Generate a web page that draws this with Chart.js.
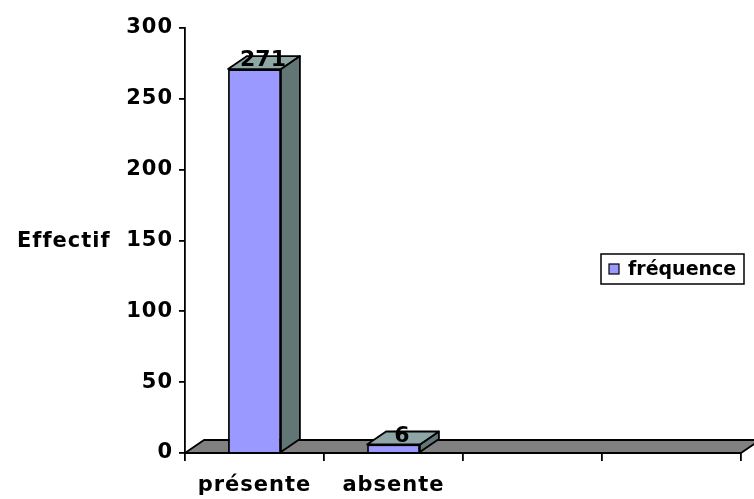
<!DOCTYPE html>
<html>
<head>
<meta charset="utf-8">
<script src="https://cdn.jsdelivr.net/npm/chart.js@4"></script>
<style>
  html, body { margin: 0; padding: 0; background: #fff; }
  #wrap { width: 754px; height: 499px; }
</style>
</head>
<body>
<div id="wrap"><canvas id="chart" width="754" height="499"></canvas></div>
<script>
const categories = ['présente', 'absente', '', ''];
const frequence = [271, 6, null, null];
const yTicks = [0, 50, 100, 150, 200, 250, 300];
const seriesLabel = 'fréquence';
const yTitle = 'Effectif';

// fake 3D depth of the bars and floor
const DX = 19;
const DY = -13;
const FONT = '"DejaVu Sans", Arial, sans-serif';

function poly(ctx, pts, fill) {
    ctx.beginPath();
    ctx.moveTo(pts[0][0], pts[0][1]);
    for (let i = 1; i < pts.length; i++) ctx.lineTo(pts[i][0], pts[i][1]);
    ctx.closePath();
    ctx.fillStyle = fill;
    ctx.fill();
    ctx.lineWidth = 1.8;
    ctx.lineJoin = 'round';
    ctx.strokeStyle = '#000';
    ctx.stroke();
}

const spacing = {
    id: 'spacing',
    beforeDraw(chart) {
        chart.ctx.letterSpacing = '1px';
    }
};

const box3d = {
    id: 'box3d',
    beforeDatasetsDraw(chart) {
        const ctx = chart.ctx;
        const a = chart.chartArea;
        ctx.save();
        poly(ctx, [[a.left, a.bottom], [a.right, a.bottom], [a.right + DX, a.bottom + DY], [a.left + DX, a.bottom + DY]], '#808080');
        ctx.restore();
    },
    afterDatasetsDraw(chart) {
        const ctx = chart.ctx;
        const meta = chart.getDatasetMeta(0);
        ctx.save();
        meta.data.forEach((bar, i) => {
            if (frequence[i] == null) return;
            const l = bar.x - bar.width / 2;
            const r = bar.x + bar.width / 2;
            poly(ctx, [[r, bar.y], [r + DX, bar.y + DY], [r + DX, bar.base + DY], [r, bar.base]], '#627676');
            poly(ctx, [[l, bar.y], [r, bar.y], [r + DX, bar.y + DY], [l + DX, bar.y + DY]], '#8fa6a6');
        });
        // value labels sitting on the top faces
        ctx.fillStyle = '#000';
        ctx.font = 'bold 22px ' + FONT;
        ctx.letterSpacing = '0px';
        ctx.textAlign = 'center';
        ctx.textBaseline = 'alphabetic';
        meta.data.forEach((bar, i) => {
            if (frequence[i] == null) return;
            ctx.fillText(String(frequence[i]), bar.x + DX / 2 - 1, bar.y - 3);
        });
        ctx.restore();
    },
    afterDraw(chart) {
        const ctx = chart.ctx;
        ctx.save();
        // horizontal axis title
        ctx.fillStyle = '#000';
        ctx.font = 'bold 21px ' + FONT;
        ctx.letterSpacing = '1px';
        ctx.textAlign = 'left';
        ctx.textBaseline = 'middle';
        ctx.fillText(yTitle, 17, 242);

        // legend box
        ctx.lineWidth = 1.5;
        ctx.strokeStyle = '#000';
        ctx.fillStyle = '#fff';
        ctx.fillRect(601, 254, 143, 30);
        ctx.strokeRect(601, 254, 143, 30);
        ctx.fillStyle = '#9999ff';
        ctx.fillRect(609, 264, 10, 10);
        ctx.lineWidth = 1.2;
        ctx.strokeRect(609, 264, 10, 10);
        ctx.fillStyle = '#000';
        ctx.font = 'bold 19px ' + FONT;
        ctx.letterSpacing = '0px';
        ctx.fillText(seriesLabel, 628, 270);
        ctx.restore();
    }
};

new Chart(document.getElementById('chart'), {
    type: 'bar',
    data: {
        labels: categories,
        datasets: [{
            label: seriesLabel,
            data: frequence,
            backgroundColor: '#9999ff',
            borderColor: '#000',
            borderWidth: 1.8,
            categoryPercentage: 1,
            barPercentage: 0.38
        }]
    },
    options: {
        responsive: false,
        animation: false,
        layout: { padding: { top: 28, right: 13, bottom: 0, left: 0 } },
        plugins: {
            legend: { display: false },
            tooltip: { enabled: false }
        },
        scales: {
            x: {
                grid: { drawOnChartArea: false, tickLength: 8, color: '#000', lineWidth: 1.8, offset: true },
                border: { display: true, color: '#000', width: 1.8 },
                ticks: { color: '#000', font: { family: FONT, size: 21, weight: 'bold' }, padding: 12, maxRotation: 0 },
                afterFit(scale) { scale.height = 46; }
            },
            y: {
                min: 0,
                max: 300,
                afterBuildTicks(scale) { scale.ticks = yTicks.map(v => ({ value: v })); },
                grid: { drawOnChartArea: false, tickLength: 6, color: '#000', lineWidth: 1.8 },
                border: { display: true, color: '#000', width: 1.8 },
                ticks: { color: '#000', font: { family: FONT, size: 21, weight: 'bold' }, padding: 6 },
                afterFit(scale) { scale.width = 185; }
            }
        }
    },
    plugins: [spacing, box3d]
});
</script>
</body>
</html>
